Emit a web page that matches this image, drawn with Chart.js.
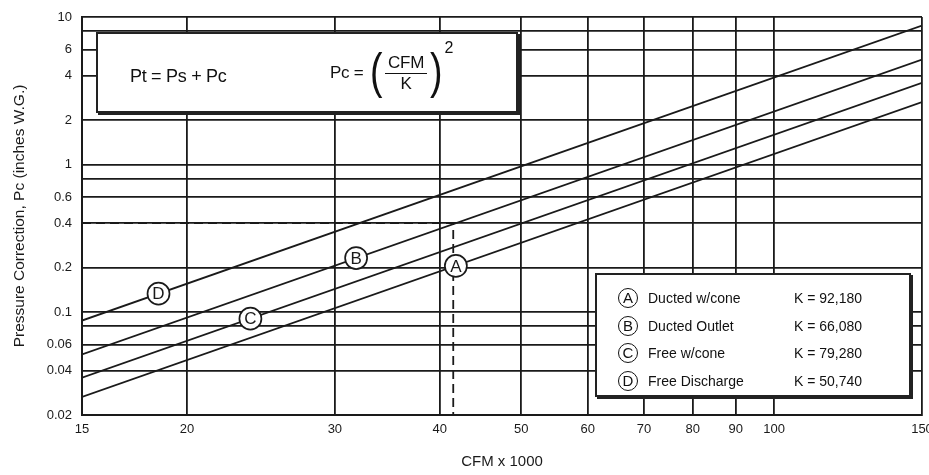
<!DOCTYPE html>
<html>
<head>
<meta charset="utf-8">
<script src="https://cdn.jsdelivr.net/npm/chart.js@4/dist/chart.umd.min.js"></script>
<style>
  html, body { margin: 0; padding: 0; background: #fff; }
  body { width: 929px; height: 475px; position: relative; overflow: hidden;
         font-family: "Liberation Sans", Arial, sans-serif; color: #111; }
  #wrap { position: absolute; left: 0; top: 0; width: 929px; height: 475px; }
  .box { position: absolute; background: #fff; border: 2px solid #222; box-shadow: 2px 2px 0 #222; }
  #formula { left: 96px; top: 32px; width: 418px; height: 77px; }
  #formula .pt { position: absolute; left: 32px; top: 32px; font-size: 18px; letter-spacing: -0.3px; }
  #formula .pc { position: absolute; left: 232px; top: 8px; height: 62px; display: flex; align-items: center; font-size: 17px; letter-spacing: -0.3px; }
  .paren { font-size: 50px; font-weight: 300; line-height: 1; transform: scaleX(0.75); margin-top: -4px; }
  .frac { display: inline-flex; flex-direction: column; align-items: center; margin: 0 1px; }
  .frac .num { border-bottom: 1.5px solid #111; padding: 0 3px; }
  .sup { align-self: flex-start; font-size: 16px; margin-top: -3px; }
  #legend { left: 595px; top: 273px; width: 312px; height: 120px; font-size: 14px; }
  .row { position: absolute; left: 0; height: 22px; width: 100%; }
  .row .c { position: absolute; left: 21px; top: 0; width: 18px; height: 18px; border: 1.5px solid #111; border-radius: 50%;
            text-align: center; line-height: 18px; font-size: 15px; }
  .row .n { position: absolute; left: 51px; top: 2px; }
  .row .k { position: absolute; left: 197px; top: 2px; }
</style>
</head>
<body>
<div id="wrap"><canvas id="chart" width="929" height="475"></canvas></div>
<div class="box" id="formula">
  <div class="pt">Pt = Ps + Pc</div>
  <div class="pc">Pc =&nbsp;<span class="paren">(</span><span class="frac"><span class="num">CFM</span><span>K</span></span><span class="paren">)</span><span class="sup">2</span></div>
</div>
<div class="box" id="legend"></div>
<script>
// values (CFM in thousands, Pc in inches W.G.)
const cfmEnds = [15, 150]
const lineA = [0.0265, 2.65]
const lineB = [0.0515, 5.15]
const lineC = [0.0358, 3.58]
const lineD = [0.0874, 8.74]

const xTicks = [15, 20, 30, 40, 50, 60, 70, 80, 90, 100, 150]
const yGrid = [0.02, 0.04, 0.06, 0.08, 0.1, 0.2, 0.4, 0.6, 0.8, 1, 2, 4, 6, 8, 10]
const yLabels = ['0.02', '0.04', '0.06', '', '0.1', '0.2', '0.4', '0.6', '', '1', '2', '4', '6', '', '10']

// dashed reading guide
const guideX = [15, 41.5, 41.5]
const guideY = [0.4, 0.4, 0.02]

// circled curve labels on the lines
const tagNames = ['D', 'C', 'B', 'A']
const tagX = [18.5, 23.8, 31.8, 41.8]
const tagY = [0.133, 0.09, 0.232, 0.205]

const legendKeys = ['A', 'B', 'C', 'D']
const legendNames = ['Ducted w/cone', 'Ducted Outlet', 'Free w/cone', 'Free Discharge']
const legendK = ['K = 92,180', 'K = 66,080', 'K = 79,280', 'K = 50,740']

const FONT = '"Liberation Sans", Arial, sans-serif'
const INK = '#1a1a1a'

const legend = document.getElementById('legend')
legendKeys.forEach((key, i) => {
  const row = document.createElement('div')
  row.className = 'row'
  row.style.top = (13 + i * 27.5) + 'px'
  row.innerHTML = '<span class="c">' + key + '</span><span class="n">' + legendNames[i] + '</span><span class="k">' + legendK[i] + '</span>'
  legend.appendChild(row)
})

const pts = (xs, ys) => xs.map((x, i) => ({ x: x, y: ys[i] }))
const lineSet = ys => ({ data: pts(cfmEnds, ys), borderColor: INK, borderWidth: 1.8, pointRadius: 0, showLine: true, fill: false })

// circles + letters at the tag points (drawn here so the point radius
// doesn't push the chart area in from the right)
const tagMarks = {
  id: 'tagMarks',
  afterDatasetsDraw(chart) {
    const meta = chart.getDatasetMeta(5)
    const ctx = chart.ctx
    ctx.save()
    ctx.font = '17px ' + FONT
    ctx.textAlign = 'center'
    ctx.textBaseline = 'middle'
    ctx.lineWidth = 1.7
    meta.data.forEach((el, i) => {
      ctx.beginPath()
      ctx.arc(el.x, el.y, 11, 0, Math.PI * 2)
      ctx.fillStyle = '#fff'
      ctx.fill()
      ctx.strokeStyle = INK
      ctx.stroke()
      ctx.fillStyle = INK
      ctx.fillText(tagNames[i], el.x, el.y + 1)
    })
    ctx.restore()
  }
}

new Chart(document.getElementById('chart'), {
  type: 'scatter',
  data: {
    datasets: [
      lineSet(lineA), lineSet(lineB), lineSet(lineC), lineSet(lineD),
      { data: pts(guideX, guideY), borderColor: INK, borderWidth: 1.8, borderDash: [9, 5], pointRadius: 0, showLine: true, fill: false },
      { data: pts(tagX, tagY), pointRadius: 0, showLine: false }
    ]
  },
  options: {
    responsive: false,
    animation: false,
    layout: { padding: { top: 17, right: 7, left: 0, bottom: 0 } },
    plugins: { legend: { display: false }, tooltip: { enabled: false } },
    scales: {
      x: {
        type: 'logarithmic', min: 15, max: 150,
        afterBuildTicks: s => { s.ticks = xTicks.map(v => ({ value: v })) },
        afterFit: s => { s.height = 60; s.paddingLeft = 0; s.paddingRight = 0 },
        ticks: { autoSkip: false, maxRotation: 0, padding: 7, color: INK, font: { family: FONT, size: 13 },
                 callback: (v, i) => String(xTicks[i]) },
        grid: { color: INK, lineWidth: 1.8, drawTicks: false },
        border: { display: true, color: INK, width: 2 },
        title: { display: true, text: 'CFM x 1000', color: INK, font: { family: FONT, size: 15 }, padding: { top: 6 } }
      },
      y: {
        type: 'logarithmic', min: 0.02, max: 10,
        afterBuildTicks: s => { s.ticks = yGrid.map(v => ({ value: v })) },
        afterFit: s => { s.width = 82; s.paddingTop = 0; s.paddingBottom = 0 },
        ticks: { autoSkip: false, padding: 10, color: INK, font: { family: FONT, size: 13 },
                 callback: (v, i) => yLabels[i] },
        grid: { color: INK, lineWidth: 1.8, drawTicks: false },
        border: { display: true, color: INK, width: 2 },
        title: { display: true, text: 'Pressure Correction, Pc (inches W.G.)', color: INK, font: { family: FONT, size: 15.5 }, padding: { top: 10, bottom: 4 } }
      }
    }
  },
  plugins: [tagMarks]
})
</script>
</body>
</html>
